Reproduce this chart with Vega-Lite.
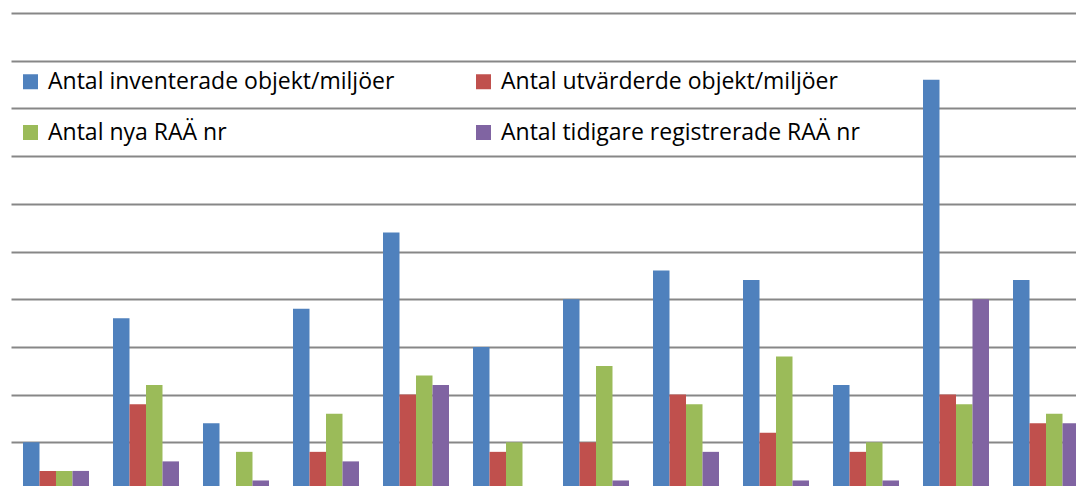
{
  "$schema": "https://vega.github.io/schema/vega-lite/v6.json",
  "width": 1076,
  "height": 486,
  "autosize": {"type": "fit", "contains": "padding"},
  "padding": {"left": 11, "top": 13, "right": 0, "bottom": 0},
  "background": "white",
  "config": {"view": {"stroke": null}},
  "data": {
    "values": [
      {"group": "1", "series": "Antal inventerade objekt/miljöer", "value": 5},
      {"group": "1", "series": "Antal utvärderde objekt/miljöer", "value": 2},
      {"group": "1", "series": "Antal nya RAÄ nr", "value": 2},
      {"group": "1", "series": "Antal tidigare registrerade RAÄ nr", "value": 2},
      {"group": "2", "series": "Antal inventerade objekt/miljöer", "value": 18},
      {"group": "2", "series": "Antal utvärderde objekt/miljöer", "value": 9},
      {"group": "2", "series": "Antal nya RAÄ nr", "value": 11},
      {"group": "2", "series": "Antal tidigare registrerade RAÄ nr", "value": 3},
      {"group": "3", "series": "Antal inventerade objekt/miljöer", "value": 7},
      {"group": "3", "series": "Antal utvärderde objekt/miljöer", "value": 0},
      {"group": "3", "series": "Antal nya RAÄ nr", "value": 4},
      {"group": "3", "series": "Antal tidigare registrerade RAÄ nr", "value": 1},
      {"group": "4", "series": "Antal inventerade objekt/miljöer", "value": 19},
      {"group": "4", "series": "Antal utvärderde objekt/miljöer", "value": 4},
      {"group": "4", "series": "Antal nya RAÄ nr", "value": 8},
      {"group": "4", "series": "Antal tidigare registrerade RAÄ nr", "value": 3},
      {"group": "5", "series": "Antal inventerade objekt/miljöer", "value": 27},
      {"group": "5", "series": "Antal utvärderde objekt/miljöer", "value": 10},
      {"group": "5", "series": "Antal nya RAÄ nr", "value": 12},
      {"group": "5", "series": "Antal tidigare registrerade RAÄ nr", "value": 11},
      {"group": "6", "series": "Antal inventerade objekt/miljöer", "value": 15},
      {"group": "6", "series": "Antal utvärderde objekt/miljöer", "value": 4},
      {"group": "6", "series": "Antal nya RAÄ nr", "value": 5},
      {"group": "6", "series": "Antal tidigare registrerade RAÄ nr", "value": 0},
      {"group": "7", "series": "Antal inventerade objekt/miljöer", "value": 20},
      {"group": "7", "series": "Antal utvärderde objekt/miljöer", "value": 5},
      {"group": "7", "series": "Antal nya RAÄ nr", "value": 13},
      {"group": "7", "series": "Antal tidigare registrerade RAÄ nr", "value": 1},
      {"group": "8", "series": "Antal inventerade objekt/miljöer", "value": 23},
      {"group": "8", "series": "Antal utvärderde objekt/miljöer", "value": 10},
      {"group": "8", "series": "Antal nya RAÄ nr", "value": 9},
      {"group": "8", "series": "Antal tidigare registrerade RAÄ nr", "value": 4},
      {"group": "9", "series": "Antal inventerade objekt/miljöer", "value": 22},
      {"group": "9", "series": "Antal utvärderde objekt/miljöer", "value": 6},
      {"group": "9", "series": "Antal nya RAÄ nr", "value": 14},
      {"group": "9", "series": "Antal tidigare registrerade RAÄ nr", "value": 1},
      {"group": "10", "series": "Antal inventerade objekt/miljöer", "value": 11},
      {"group": "10", "series": "Antal utvärderde objekt/miljöer", "value": 4},
      {"group": "10", "series": "Antal nya RAÄ nr", "value": 5},
      {"group": "10", "series": "Antal tidigare registrerade RAÄ nr", "value": 1},
      {"group": "11", "series": "Antal inventerade objekt/miljöer", "value": 43},
      {"group": "11", "series": "Antal utvärderde objekt/miljöer", "value": 10},
      {"group": "11", "series": "Antal nya RAÄ nr", "value": 9},
      {"group": "11", "series": "Antal tidigare registrerade RAÄ nr", "value": 20},
      {"group": "12", "series": "Antal inventerade objekt/miljöer", "value": 22},
      {"group": "12", "series": "Antal utvärderde objekt/miljöer", "value": 7},
      {"group": "12", "series": "Antal nya RAÄ nr", "value": 8},
      {"group": "12", "series": "Antal tidigare registrerade RAÄ nr", "value": 7}
    ]
  },
  "mark": {"type": "bar", "clip": true},
  "encoding": {
    "x": {
      "field": "group",
      "type": "ordinal",
      "sort": null,
      "scale": {"range": [0, 1080], "paddingInner": 0.2667, "paddingOuter": 0.1333},
      "axis": null
    },
    "xOffset": {
      "field": "series",
      "type": "nominal",
      "sort": ["Antal inventerade objekt/miljöer", "Antal utvärderde objekt/miljöer", "Antal nya RAÄ nr", "Antal tidigare registrerade RAÄ nr"],
      "scale": {"paddingInner": 0, "paddingOuter": 0}
    },
    "y": {
      "field": "value",
      "type": "quantitative",
      "scale": {"domain": [0.42, 50], "zero": false, "nice": false},
      "axis": {
        "values": [5, 10, 15, 20, 25, 30, 35, 40, 45, 50],
        "grid": true,
        "gridColor": "#878787",
        "gridWidth": 2,
        "labels": false,
        "ticks": false,
        "domain": false,
        "title": null
      }
    },
    "color": {
      "field": "series",
      "type": "nominal",
      "scale": {
        "domain": ["Antal inventerade objekt/miljöer", "Antal utvärderde objekt/miljöer", "Antal nya RAÄ nr", "Antal tidigare registrerade RAÄ nr"],
        "range": ["#4F81BD", "#C0504D", "#9BBB59", "#8064A2"]
      },
      "legend": {
        "orient": "none",
        "legendX": 8,
        "legendY": 57,
        "direction": "horizontal",
        "columns": 2,
        "title": null,
        "symbolType": "square",
        "symbolSize": 225,
        "symbolStrokeWidth": 0,
        "symbolOpacity": 1,
        "labelFont": "Open Sans",
        "labelFontSize": 23,
        "labelColor": "#000000",
        "labelOffset": 6,
        "labelLimit": 600,
        "columnPadding": 77,
        "rowPadding": 27,
        "padding": 0
      }
    }
  }
}
